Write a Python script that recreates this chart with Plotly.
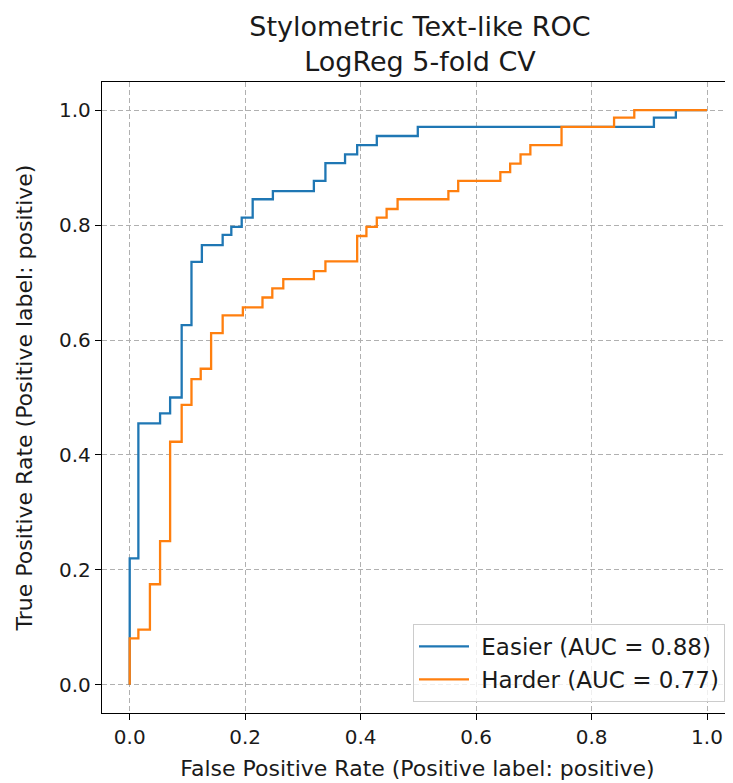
import plotly.graph_objects as go

# ROC vertices (Easier)
easier_fpr = [0.0, 0.0, 0.015, 0.015, 0.0526, 0.0526, 0.070, 0.070, 0.090, 0.090,
              0.107, 0.107, 0.125, 0.125, 0.161, 0.161, 0.176, 0.176, 0.194, 0.194,
              0.213, 0.213, 0.248, 0.248, 0.319, 0.319, 0.339, 0.339, 0.373, 0.373,
              0.394, 0.394, 0.428, 0.428, 0.499, 0.499, 0.908, 0.908, 0.946, 0.946, 1.0]
easier_tpr = [0.0, 0.220, 0.220, 0.455, 0.455, 0.4725, 0.4725, 0.500, 0.500, 0.626,
              0.626, 0.736, 0.736, 0.765, 0.765, 0.783, 0.783, 0.797, 0.797, 0.813,
              0.813, 0.845, 0.845, 0.859, 0.859, 0.877, 0.877, 0.908, 0.908, 0.923,
              0.923, 0.939, 0.939, 0.955, 0.955, 0.971, 0.971, 0.987, 0.987, 1.0, 1.0]

# ROC vertices (Harder)
harder_fpr = [0.0, 0.0, 0.015, 0.015, 0.035, 0.035, 0.0526, 0.0526, 0.070, 0.070,
              0.090, 0.090, 0.107, 0.107, 0.123, 0.123, 0.141, 0.141, 0.161, 0.161,
              0.196, 0.196, 0.230, 0.230, 0.247, 0.247, 0.266, 0.266, 0.319, 0.319,
              0.339, 0.339, 0.394, 0.394, 0.410, 0.410, 0.428, 0.428, 0.445, 0.445,
              0.464, 0.464, 0.552, 0.552, 0.569, 0.569, 0.642, 0.642, 0.659, 0.659,
              0.677, 0.677, 0.694, 0.694, 0.748, 0.748, 0.839, 0.839, 0.874, 0.874, 1.0]
harder_tpr = [0.0, 0.081, 0.081, 0.096, 0.096, 0.175, 0.175, 0.250, 0.250, 0.423,
              0.423, 0.487, 0.487, 0.532, 0.532, 0.550, 0.550, 0.612, 0.612, 0.643,
              0.643, 0.657, 0.657, 0.674, 0.674, 0.690, 0.690, 0.706, 0.706, 0.720,
              0.720, 0.737, 0.737, 0.781, 0.781, 0.797, 0.797, 0.813, 0.813, 0.828,
              0.828, 0.845, 0.845, 0.859, 0.859, 0.877, 0.877, 0.892, 0.892, 0.907,
              0.907, 0.923, 0.923, 0.939, 0.939, 0.971, 0.971, 0.987, 0.987, 1.0, 1.0]

series_names = ["Easier (AUC = 0.88)", "Harder (AUC = 0.77)"]
series_colors = ["#1f77b4", "#ff7f0e"]
tick_vals = [0.0, 0.2, 0.4, 0.6, 0.8, 1.0]
tick_text = ["0.0", "0.2", "0.4", "0.6", "0.8", "1.0"]

FONT = "DejaVu Sans"
TXT = "#1a1a1a"

# The page body adds an 8px margin, so the figure is 8px smaller than the window
W, H = 725, 775

fig = go.Figure()
for i, (fpr, tpr) in enumerate([(easier_fpr, easier_tpr), (harder_fpr, harder_tpr)]):
    fig.add_trace(go.Scatter(x=fpr, y=tpr, mode="lines", name="\u00a0" + series_names[i],
                             legendgroup=f"g{i}",
                             line=dict(color=series_colors[i], width=2.3)))

axis_common = dict(
    showgrid=True, gridcolor="#b0b0b0", gridwidth=1, griddash="5px,3px",
    zeroline=False, showline=True, linecolor="black", linewidth=1.3,
    ticks="outside", ticklen=6, tickwidth=1.3, tickcolor="black",
    tickvals=tick_vals, ticktext=tick_text, automargin=False,
    tickfont=dict(family=FONT, size=20, color=TXT),
)

fig.update_layout(
    width=W, height=H,
    margin=dict(l=94, r=0, t=74, b=70, autoexpand=False),
    paper_bgcolor="white", plot_bgcolor="white",
    font=dict(family=FONT, color=TXT),
    title=dict(text="Stylometric Text-like ROC<br>LogReg 5-fold CV",
               x=412 / W, xref="container", xanchor="center",
               y=1 - 28 / H, yref="container", yanchor="top",
               automargin=False,
               font=dict(family=FONT, size=27, color=TXT)),
    xaxis=dict(range=[-0.048, 1.045], mirror=True,
               title=dict(text="False Positive Rate (Positive label: positive)",
                          font=dict(family=FONT, size=22, color=TXT), standoff=12),
               **axis_common),
    yaxis=dict(range=[-0.049, 1.049], mirror=False,
               title=dict(text="True Positive Rate (Positive label: positive)",
                          font=dict(family=FONT, size=22, color=TXT), standoff=20),
               **axis_common),
    legend=dict(x=(725 - 102) / 631, xanchor="right", y=(713 - 702) / 631, yanchor="bottom",
                bgcolor="rgba(255,255,255,0.8)", bordercolor="#cccccc", borderwidth=1,
                font=dict(family=FONT, size=23, color=TXT),
                itemwidth=50, tracegroupgap=0),
    showlegend=True,
)

fig.write_html("out.html")
